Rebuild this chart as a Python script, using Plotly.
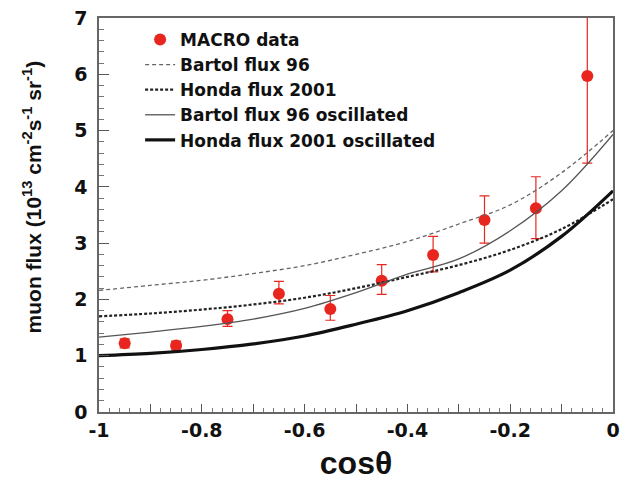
import plotly.graph_objects as go

# MACRO upward-going muon flux versus zenith angle
cos_bins = [-0.95, -0.85, -0.75, -0.65, -0.55, -0.45, -0.35, -0.25, -0.15, -0.05]
macro_flux = [1.22, 1.18, 1.65, 2.10, 1.83, 2.33, 2.79, 3.41, 3.62, 5.97]
macro_err_hi = [0.08, 0.08, 0.15, 0.22, 0.24, 0.29, 0.33, 0.43, 0.56, 1.60]
macro_err_lo = [0.08, 0.08, 0.13, 0.18, 0.20, 0.24, 0.30, 0.41, 0.54, 1.55]

# Monte Carlo predictions
cos_grid = [-1.0, -0.9, -0.8, -0.7, -0.6, -0.5, -0.4, -0.3, -0.2, -0.1, 0.0]
bartol96 = [2.16, 2.25, 2.34, 2.46, 2.60, 2.80, 3.03, 3.34, 3.68, 4.25, 5.00]
honda2001 = [1.70, 1.75, 1.82, 1.91, 2.03, 2.20, 2.40, 2.61, 2.88, 3.25, 3.78]
bartol96_osc = [1.33, 1.42, 1.52, 1.65, 1.84, 2.12, 2.45, 2.72, 3.22, 3.93, 4.93]
honda2001_osc = [1.00, 1.04, 1.11, 1.21, 1.35, 1.56, 1.80, 2.12, 2.52, 3.12, 3.93]

fig = go.Figure()

fig.add_trace(go.Scatter(
    x=cos_bins, y=macro_flux, mode="markers", name="MACRO data",
    marker=dict(color="#e8261f", size=12, line=dict(width=0)),
    error_y=dict(type="data", symmetric=False, array=macro_err_hi,
                 arrayminus=macro_err_lo, color="#e8261f", thickness=1.2, width=5),
))
fig.add_trace(go.Scatter(
    x=cos_grid, y=bartol96, mode="lines", name="Bartol flux 96",
    line=dict(color="#666666", width=1.3, dash="4px,3px", shape="spline"),
))
fig.add_trace(go.Scatter(
    x=cos_grid, y=honda2001, mode="lines", name="Honda flux 2001",
    line=dict(color="#222222", width=2.2, dash="3px,2px", shape="spline"),
))
fig.add_trace(go.Scatter(
    x=cos_grid, y=bartol96_osc, mode="lines", name="Bartol flux 96 oscillated",
    line=dict(color="#555555", width=1.3, shape="spline"),
))
fig.add_trace(go.Scatter(
    x=cos_grid, y=honda2001_osc, mode="lines", name="Honda flux 2001 oscillated",
    line=dict(color="#111111", width=3.2, shape="spline"),
))

bold_family = "DejaVu Sans, Liberation Sans, Arial, sans-serif"
plain_family = "Liberation Sans, Arial, sans-serif"

fig.update_layout(
    width=627, height=487,
    margin=dict(l=99, r=7, t=16, b=75),
    paper_bgcolor="white", plot_bgcolor="white",
    showlegend=True,
    legend=dict(
        x=0.08, y=0.99, xanchor="left", yanchor="top",
        bgcolor="rgba(0,0,0,0)", borderwidth=0,
        font=dict(family=bold_family, size=17, color="#111111", weight="bold"),
        tracegroupgap=0, itemwidth=30,
    ),
    xaxis=dict(
        range=[-1, 0],
        tickmode="array",
        tickvals=[-1, -0.9, -0.8, -0.7, -0.6, -0.5, -0.4, -0.3, -0.2, -0.1, 0],
        ticktext=["-1", "", "-0.8", "", "-0.6", "", "-0.4", "", "-0.2", "", "0"],
        ticks="inside", ticklen=8, tickwidth=1.2, tickcolor="#555555",
        minor=dict(dtick=0.02, ticks="inside", ticklen=4, tickwidth=1, tickcolor="#777777"),
        showgrid=False, zeroline=False,
        showline=True, linecolor="#666666", linewidth=1.5, mirror=True,
        tickfont=dict(family=bold_family, size=19, color="#111111", weight="bold"),
        title=dict(text="cosθ", standoff=12,
                   font=dict(family=plain_family, size=32, color="#111111", weight="bold")),
    ),
    yaxis=dict(
        range=[0, 7],
        tickmode="linear", tick0=0, dtick=1,
        ticks="inside", ticklen=10, tickwidth=1.2, tickcolor="#555555",
        minor=dict(dtick=0.2, ticks="inside", ticklen=5, tickwidth=1, tickcolor="#777777"),
        showgrid=False, zeroline=False,
        showline=True, linecolor="#666666", linewidth=1.5, mirror=True,
        ticklabelstandoff=6,
        tickfont=dict(family=bold_family, size=19, color="#111111", weight="bold"),
    ),
    annotations=[dict(
        text="muon flux (10<sup>13</sup> cm<sup>-2</sup>s<sup>-1</sup> sr<sup>-1</sup>)",
        xref="paper", yref="paper", x=-0.13, y=0.545,
        xanchor="center", yanchor="middle", textangle=-90, showarrow=False,
        font=dict(family=plain_family, size=21, color="#111111", weight="bold"),
    )],
)

fig.write_html("out.html")
